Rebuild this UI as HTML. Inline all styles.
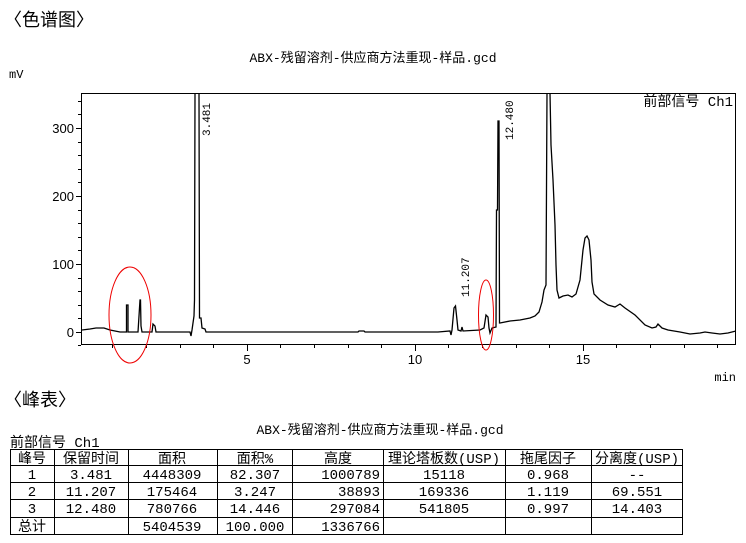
<!DOCTYPE html>
<html><head><meta charset="utf-8"><style>
html,body{margin:0;padding:0;background:#fff;}
svg{display:block;}
.cjk{font-family:"Liberation Sans","Noto Sans CJK SC",sans-serif;}
.m{font-family:"Liberation Mono","Noto Sans CJK SC",monospace;}
</style></head><body>
<svg width="746" height="543" viewBox="0 0 746 543" xmlns="http://www.w3.org/2000/svg">
<defs><clipPath id="c"><rect x="82" y="93" width="654" height="252"/></clipPath></defs>
<text x="4" y="26" class="cjk" font-size="18" fill="#000">〈色谱图〉</text>
<text x="373" y="62" class="m" font-size="13" text-anchor="middle" fill="#000">ABX-残留溶剂-供应商方法重现-样品.gcd</text>
<text x="9" y="78" class="m" font-size="12" fill="#000">mV</text>
<rect x="81.5" y="93.5" width="654" height="251" fill="none" stroke="#000" stroke-width="1"/>
<g stroke="#000" stroke-width="1">
<line x1="76" y1="332.5" x2="81" y2="332.5"/><line x1="76" y1="264.5" x2="81" y2="264.5"/><line x1="76" y1="196.5" x2="81" y2="196.5"/><line x1="76" y1="128.5" x2="81" y2="128.5"/>
<line x1="78" y1="318.5" x2="81" y2="318.5"/><line x1="78" y1="305.5" x2="81" y2="305.5"/><line x1="78" y1="291.5" x2="81" y2="291.5"/><line x1="78" y1="278.5" x2="81" y2="278.5"/>
<line x1="78" y1="250.5" x2="81" y2="250.5"/><line x1="78" y1="237.5" x2="81" y2="237.5"/><line x1="78" y1="223.5" x2="81" y2="223.5"/><line x1="78" y1="210.5" x2="81" y2="210.5"/>
<line x1="78" y1="182.5" x2="81" y2="182.5"/><line x1="78" y1="169.5" x2="81" y2="169.5"/><line x1="78" y1="155.5" x2="81" y2="155.5"/><line x1="78" y1="142.5" x2="81" y2="142.5"/>
<line x1="78" y1="114.5" x2="81" y2="114.5"/><line x1="78" y1="101.5" x2="81" y2="101.5"/><line x1="78" y1="345.5" x2="81" y2="345.5"/>
<line x1="112.5" y1="345" x2="112.5" y2="348"/><line x1="146.5" y1="345" x2="146.5" y2="348"/><line x1="180.5" y1="345" x2="180.5" y2="348"/><line x1="213.5" y1="345" x2="213.5" y2="348"/>
<line x1="247.5" y1="345" x2="247.5" y2="351"/>
<line x1="280.5" y1="345" x2="280.5" y2="348"/><line x1="314.5" y1="345" x2="314.5" y2="348"/><line x1="348.5" y1="345" x2="348.5" y2="348"/><line x1="381.5" y1="345" x2="381.5" y2="348"/>
<line x1="415.5" y1="345" x2="415.5" y2="351"/>
<line x1="448.5" y1="345" x2="448.5" y2="348"/><line x1="482.5" y1="345" x2="482.5" y2="348"/><line x1="516.5" y1="345" x2="516.5" y2="348"/><line x1="549.5" y1="345" x2="549.5" y2="348"/>
<line x1="583.5" y1="345" x2="583.5" y2="351"/>
<line x1="616.5" y1="345" x2="616.5" y2="348"/><line x1="650.5" y1="345" x2="650.5" y2="348"/><line x1="684.5" y1="345" x2="684.5" y2="348"/><line x1="717.5" y1="345" x2="717.5" y2="348"/>
</g>
<g font-family="Liberation Sans,sans-serif" font-size="13" fill="#000" text-anchor="end">
<text x="74" y="337">0</text><text x="74" y="269">100</text><text x="74" y="201">200</text><text x="74" y="133">300</text>
</g>
<g font-family="Liberation Sans,sans-serif" font-size="13" fill="#000" text-anchor="middle">
<text x="247" y="364">5</text><text x="415" y="364">10</text><text x="583" y="364">15</text>
</g>
<text x="736" y="381" class="m" font-size="12" text-anchor="end">min</text>
<text x="733" y="106" class="m" font-size="14" text-anchor="end">前部信号 Ch1</text>
<path clip-path="url(#c)" fill="none" stroke="#000" stroke-width="1.3" d="M82 330 L90 329 L96 328 L104 328 L110 330 L120 332 L126.5 332 L126.5 305 L128 305 L128 332 L138 332 L139 316 L140 300 L140.5 300 L141 326 L142 332 L152 332 L153 324 L155 326 L156 332 L190 332 L191 336 L192 330 L194 316 L194.5 300 L195 93 L199 93 L199.5 318 L201 318 L202 328 L205 329 L206 332 L358 332 L359 331 L364 331 L365 332 L438 332 L450 331 L451 335 L452 330 L454 308 L455.5 306 L457 320 L458 330 L461 331 L462 327 L463 331 L480 330 L484 328 L486 315 L488 317 L489 328 L490 333 L492 328 L496 327 L496.5 210 L497.5 210 L498 121 L499 121 L499.5 323 L500 323 L510 321 L520 320 L530 318 L535 316 L539 312 L542 302 L544 290 L546 285 L547 93 L550 93 L551 145 L553 180 L555 225 L556 265 L557 290 L559 298 L563 296 L568 295 L572 297 L576 294 L580 280 L583 250 L585 238 L587 236 L589 240 L591 260 L592 282 L594 294 L600 300 L608 305 L615 307 L620 304 L625 308 L635 315 L645 325 L652 328 L656 327 L658 324 L662 328 L668 330 L680 332 L690 334 L700 333 L705 332 L712 333 L720 334 L728 333 L736 331"/>
<text transform="translate(210,136) rotate(-90)" class="m" font-size="11">3.481</text>
<text transform="translate(469,297) rotate(-90)" class="m" font-size="11">11.207</text>
<text transform="translate(513,140) rotate(-90)" class="m" font-size="11">12.480</text>
<ellipse cx="130" cy="315" rx="21" ry="48" fill="none" stroke="#e00" stroke-width="1"/>
<ellipse cx="486" cy="315" rx="7.5" ry="35" fill="none" stroke="#e00" stroke-width="1"/>
<text x="4" y="406" class="cjk" font-size="18" fill="#000">〈峰表〉</text>
<text x="380" y="434" class="m" font-size="13" text-anchor="middle">ABX-残留溶剂-供应商方法重现-样品.gcd</text>
<text x="10" y="447" class="m" font-size="14">前部信号 Ch1</text>
<g stroke="#000" stroke-width="1" fill="none">
<rect x="10.5" y="449.5" width="672" height="85"/>
<line x1="10" y1="465.5" x2="683" y2="465.5"/><line x1="10" y1="482.5" x2="683" y2="482.5"/><line x1="10" y1="499.5" x2="683" y2="499.5"/><line x1="10" y1="517.5" x2="683" y2="517.5"/>
<line x1="54.5" y1="449" x2="54.5" y2="535"/><line x1="128.5" y1="449" x2="128.5" y2="535"/><line x1="217.5" y1="449" x2="217.5" y2="535"/><line x1="292.5" y1="449" x2="292.5" y2="535"/><line x1="383.5" y1="449" x2="383.5" y2="535"/><line x1="505.5" y1="449" x2="505.5" y2="535"/><line x1="591.5" y1="449" x2="591.5" y2="535"/>
</g>
<g class="m" font-size="14" text-anchor="middle" fill="#000">
<text x="32" y="463">峰号</text><text x="91" y="463">保留时间</text><text x="172" y="463">面积</text><text x="255" y="463">面积%</text><text x="338" y="463">高度</text><text x="444" y="463">理论塔板数(USP)</text><text x="548" y="463">拖尾因子</text><text x="637" y="463">分离度(USP)</text>
<text x="32" y="479">1</text><text x="91" y="479">3.481</text><text x="172" y="479">4448309</text><text x="255" y="479">82.307</text><text x="444" y="479">15118</text><text x="548" y="479">0.968</text><text x="637" y="479">--</text>
<text x="32" y="496">2</text><text x="91" y="496">11.207</text><text x="172" y="496">175464</text><text x="255" y="496">3.247</text><text x="444" y="496">169336</text><text x="548" y="496">1.119</text><text x="637" y="496">69.551</text>
<text x="32" y="513">3</text><text x="91" y="513">12.480</text><text x="172" y="513">780766</text><text x="255" y="513">14.446</text><text x="444" y="513">541805</text><text x="548" y="513">0.997</text><text x="637" y="513">14.403</text>
<text x="32" y="531">总计</text><text x="172" y="531">5404539</text><text x="255" y="531">100.000</text>
</g>
<g class="m" font-size="14" text-anchor="end" fill="#000">
<text x="380" y="479">1000789</text><text x="380" y="496">38893</text><text x="380" y="513">297084</text><text x="380" y="531">1336766</text>
</g>
</svg>
</body></html>
